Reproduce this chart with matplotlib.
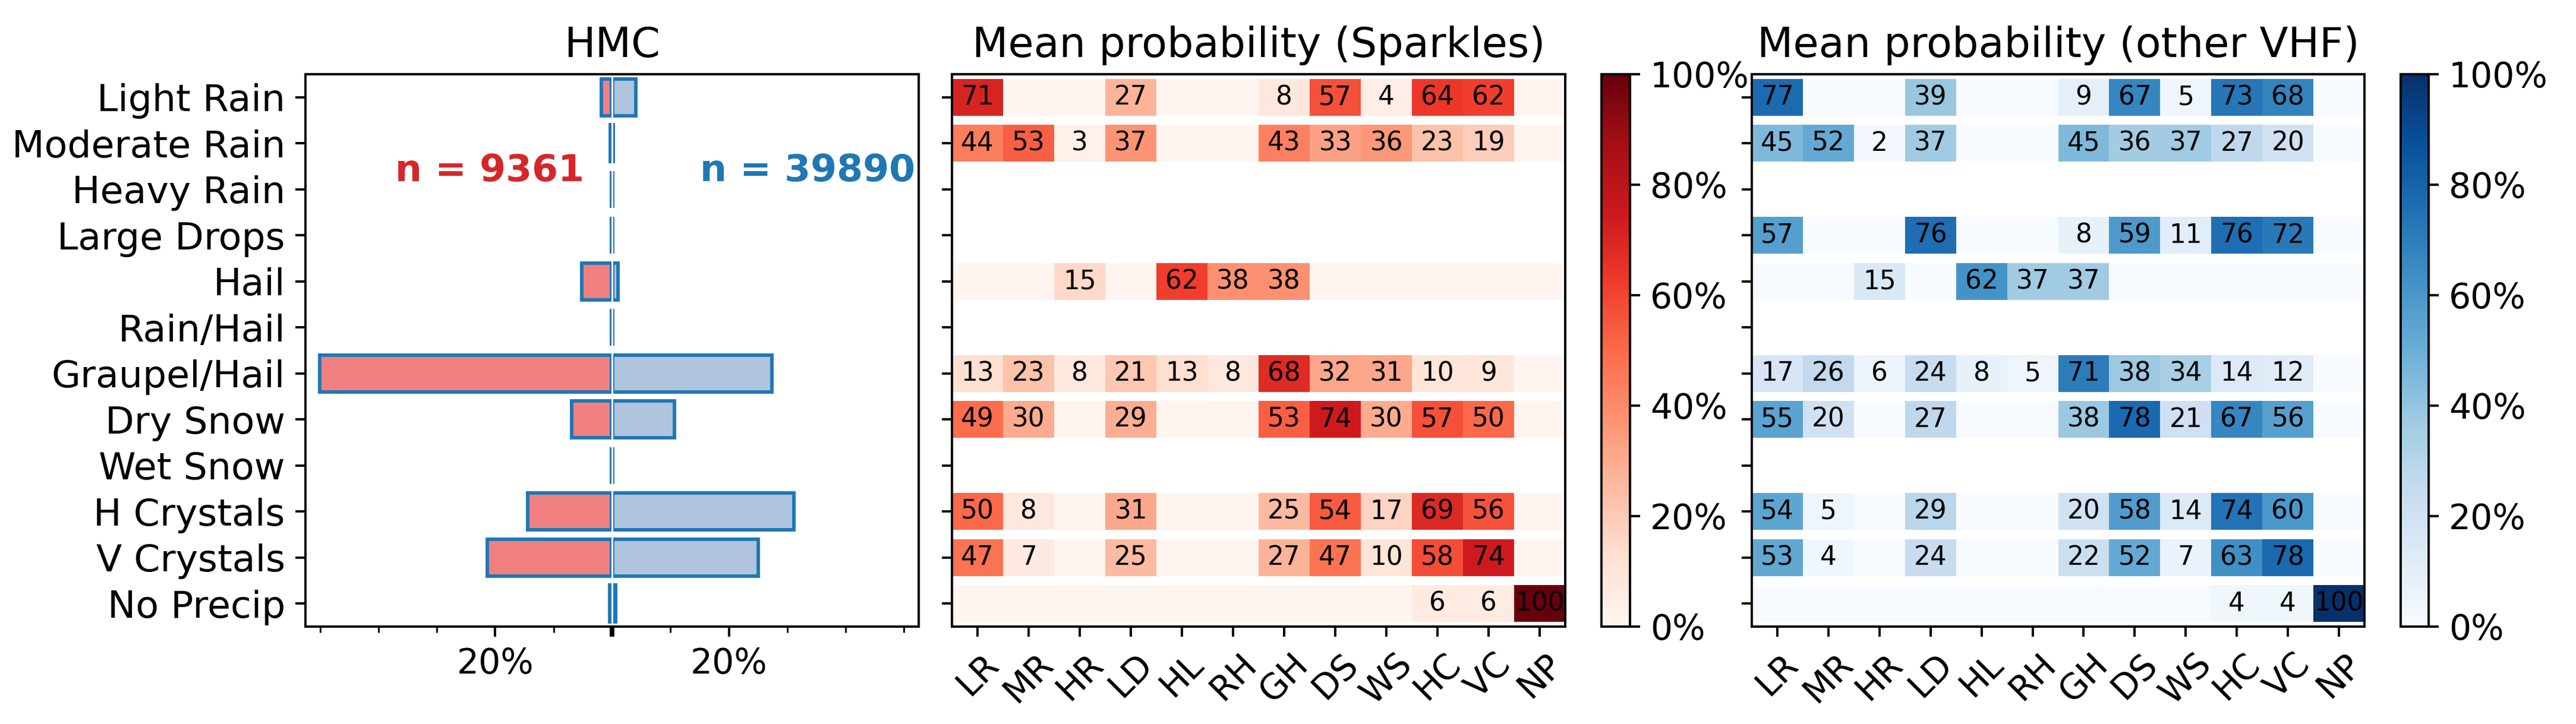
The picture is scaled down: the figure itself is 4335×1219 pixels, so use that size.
import numpy as np
import matplotlib
matplotlib.use('Agg')
from matplotlib import pyplot as plt
from matplotlib.ticker import PercentFormatter

# HMC classes
hmc_names = ['Light Rain', 'Moderate Rain', 'Heavy Rain', 'Large Drops', 'Hail',
             'Rain/Hail', 'Graupel/Hail', 'Dry Snow', 'Wet Snow', 'H Crystals',
             'V Crystals', 'No Precip']
hmc_short = ['LR', 'MR', 'HR', 'LD', 'HL', 'RH', 'GH', 'DS', 'WS', 'HC', 'VC', 'NP']

n_sparkles = 9361
n_other = 39890

# share of each HMC class (%)
pct_sparkles = [1.65, 0.2, 0, 0, 5.0, 0, 49.9, 6.8, 0, 14.25, 21.25, 0.26]
pct_other = [3.95, 0.05, 0, 0, 0.85, 0, 27.2, 10.55, 0, 30.95, 24.9, 0.47]

# mean probability (%), None = no data for that class
prob_sparkles = [
    [71, 0, 0, 27, 0, 0, 8, 57, 4, 64, 62, 0],
    [44, 53, 3, 37, 0, 0, 43, 33, 36, 23, 19, 0],
    None,
    None,
    [0, 0, 15, 0, 62, 38, 38, 0, 0, 0, 0, 0],
    None,
    [13, 23, 8, 21, 13, 8, 68, 32, 31, 10, 9, 0],
    [49, 30, 0, 29, 0, 0, 53, 74, 30, 57, 50, 0],
    None,
    [50, 8, 0, 31, 0, 0, 25, 54, 17, 69, 56, 0],
    [47, 7, 0, 25, 0, 0, 27, 47, 10, 58, 74, 0],
    [0, 0, 0, 0, 0, 0, 0, 0, 0, 6, 6, 100],
]

prob_other = [
    [77, 0, 0, 39, 0, 0, 9, 67, 5, 73, 68, 0],
    [45, 52, 2, 37, 0, 0, 45, 36, 37, 27, 20, 0],
    None,
    [57, 0, 0, 76, 0, 0, 8, 59, 11, 76, 72, 0],
    [0, 0, 15, 0, 62, 37, 37, 0, 0, 0, 0, 0],
    None,
    [17, 26, 6, 24, 8, 5, 71, 38, 34, 14, 12, 0],
    [55, 20, 0, 27, 0, 0, 38, 78, 21, 67, 56, 0],
    None,
    [54, 5, 0, 29, 0, 0, 20, 58, 14, 74, 60, 0],
    [53, 4, 0, 24, 0, 0, 22, 52, 7, 63, 78, 0],
    [0, 0, 0, 0, 0, 0, 0, 0, 0, 4, 4, 100],
]

plt.rcParams['font.size'] = 12

W, H = 4335, 1219
DPI = 350
fig = plt.figure(figsize=(W / DPI, H / DPI), dpi=DPI)


def px_axes(x0, x1, top=125, bottom=1055):
    return fig.add_axes([x0 / W, 1 - bottom / H, (x1 - x0) / W, (bottom - top) / H])


# heatmap with one strip per HMC row
def draw_heat(ax, data, cmap, title):
    xedges = np.arange(len(hmc_short) + 1) - 0.5
    mesh = None
    for i, row in enumerate(data):
        if row is None:
            continue
        mesh = ax.pcolormesh(xedges, [i - 0.4, i + 0.4], np.array([row]),
                             cmap=cmap, vmin=0, vmax=100, antialiased=False)
        for j, v in enumerate(row):
            if v > 0:
                ax.text(j, i, '%d' % v, ha='center', va='center', fontsize=9)
    ax.set_xlim(-0.5, len(hmc_short) - 0.5)
    ax.set_ylim(len(hmc_names) - 0.5, -0.5)
    ax.set_xticks(range(len(hmc_short)))
    ax.set_xticklabels(hmc_short, rotation=45)
    ax.set_yticks(range(len(hmc_names)))
    ax.set_yticklabels([])
    ax.set_title(title)
    return mesh


# left panel: distribution of HMC
ax0 = px_axes(514, 1546)
y = np.arange(len(hmc_names))
off = 0.15
ax0.barh(y, -np.array(pct_sparkles), left=-off, height=0.8, color='lightcoral',
         edgecolor='tab:blue', linewidth=1.2)
ax0.barh(y, pct_other, left=off, height=0.8, color='lightsteelblue',
         edgecolor='tab:blue', linewidth=1.2)
ax0.axvline(0, color='white', linewidth=0.6)
ax0.set_xlim(-52.5, 52.5)
ax0.set_ylim(len(hmc_names) - 0.5, -0.5)
ax0.set_yticks(y)
ax0.set_yticklabels(hmc_names, fontsize=13)
ax0.set_xticks([-20, 0, 20])
ax0.set_xticklabels(['20%', '', '20%'])
ax0.set_xticks([-50, -40, -30, -10, 10, 30, 40, 50], minor=True)
ax0.xaxis.get_major_ticks()[1].tick1line.set_markeredgewidth(1.6)
ax0.text(-21.0, 1.6, 'n = %d' % n_sparkles, color='tab:red', fontweight='bold',
         ha='center', va='center', fontsize=13)
ax0.text(33.5, 1.6, 'n = %d' % n_other, color='tab:blue', fontweight='bold',
         ha='center', va='center', fontsize=13)
ax0.set_title('HMC')

# middle panel: sparkles
ax1 = px_axes(1602, 2634)
m1 = draw_heat(ax1, prob_sparkles, 'Reds', 'Mean probability (Sparkles)')
cax1 = px_axes(2695, 2743)
fig.colorbar(m1, cax=cax1, ticks=np.arange(0, 101, 20),
             format=PercentFormatter(xmax=100, decimals=0))

# right panel: other VHF
ax2 = px_axes(2948, 3979)
m2 = draw_heat(ax2, prob_other, 'Blues', 'Mean probability (other VHF)')
cax2 = px_axes(4040, 4087)
fig.colorbar(m2, cax=cax2, ticks=np.arange(0, 101, 20),
             format=PercentFormatter(xmax=100, decimals=0))

plt.savefig('out.png', dpi=DPI)
